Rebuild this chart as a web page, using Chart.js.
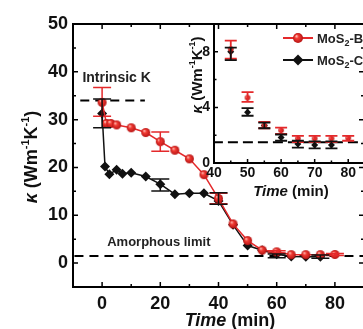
<!DOCTYPE html>
<html>
<head>
<meta charset="utf-8">
<script src="https://cdn.jsdelivr.net/npm/chart.js@4.4.1/dist/chart.umd.min.js"></script>
<style>
  html, body { margin: 0; padding: 0; background: #fff; overflow: hidden; }
  #wrap { position: relative; width: 363px; height: 329px; overflow: hidden; }
  #wrap canvas { position: absolute; left: 0; top: 0; }
</style>
</head>
<body>
<div id="wrap">
  <canvas id="mainChart" width="370" height="329"></canvas>
  <canvas id="insetChart" width="370" height="329"></canvas>
</div>
<script>
// MoS2-B (red spheres)
const timeB = [0, 1.5, 3, 5, 10, 15, 20, 25, 30, 35, 40, 45, 50, 55, 60, 65, 70, 75, 80];
const kappaB = [33.6, 29.2, 29.2, 28.9, 28.3, 27.3, 25.4, 23.6, 21.8, 18.5, 13.5, 8.2, 4.7, 2.7, 2.35, 1.76, 1.76, 1.76, 1.8];
// error bars shown in the main panel
const mainErrLowB = [30.7, null, null, null, null, null, 23.4, null, null, null, 12.4, null, null, null, 2.1, null, null, null, 1.6];
const mainErrHighB = [36.7, null, null, null, null, null, 27.4, null, null, null, 14.6, null, null, null, 2.6, null, null, null, 2.0];
// error bars shown in the inset
const insetErrLowB = [null, null, null, null, null, null, null, null, null, null, null, 7.5, 4.4, 2.5, 2.1, 1.5, 1.5, 1.5, 1.6];
const insetErrHighB = [null, null, null, null, null, null, null, null, null, null, null, 8.8, 5.1, 2.95, 2.55, 1.95, 1.95, 1.95, 1.95];

// MoS2-C (black diamonds)
const timeC = [0, 1, 2.5, 5, 7, 10, 15, 20, 25, 30, 35, 40, 45, 50, 55, 60, 65, 70, 75];
const kappaC = [31.3, 20.2, 18.6, 19.5, 18.7, 18.9, 18.1, 16.5, 14.4, 14.6, 14.6, 13.0, 8.0, 3.66, 2.7, 1.83, 1.36, 1.3, 1.3];
const mainErrLowC = [28.3, null, null, null, null, null, null, 15.1, null, null, null, 12.3, null, null, null, 1.1, null, null, 1.0];
const mainErrHighC = [34.3, null, null, null, null, null, null, 17.6, null, null, null, 14.7, null, null, null, 1.9, null, null, 1.7];
const insetErrLowC = [null, null, null, null, null, null, null, null, null, null, null, null, 7.4, 3.4, 2.5, 1.6, 1.1, 1.05, 1.05];
const insetErrHighC = [null, null, null, null, null, null, null, null, null, null, null, null, 8.3, 3.95, 2.9, 2.05, 1.6, 1.55, 1.55];

// reference lines
const intrinsicX = [-7.5, 14.7];
const intrinsicK = 34;
const amorphousX = [-9.5, 90];
const amorphousK = 1.5;

// tick labels
const mainXLabels = [0, 20, 40, 60, 80];
const mainYLabels = [0, 10, 20, 30, 40, 50];
const insetXLabels = [40, 50, 60, 70, 80];
const insetYLabels = [0, 4, 8];

const RED = "#e4292b";
const BLACK = "#111";
const FONT = "'Liberation Sans', Arial, sans-serif";
Chart.defaults.font.family = FONT;

function toPoints(xs, ys) {
  return xs.map((x, i) => ({ x, y: ys[i] }));
}

function sphere(r) {
  const c = document.createElement("canvas");
  const d = Math.ceil(r * 2) + 2;
  c.width = d;
  c.height = d;
  const g = c.getContext("2d");
  const m = d / 2;
  const grad = g.createRadialGradient(m - r * 0.35, m - r * 0.4, r * 0.05, m, m, r);
  grad.addColorStop(0, "#ffc4bc");
  grad.addColorStop(0.35, "#f23b33");
  grad.addColorStop(1, "#b71414");
  g.fillStyle = grad;
  g.beginPath();
  g.arc(m, m, r, 0, Math.PI * 2);
  g.fill();
  return c;
}

function drawRich(ctx, cx, cy, parts, angle) {
  ctx.save();
  ctx.translate(cx, cy);
  ctx.rotate(angle || 0);
  ctx.textAlign = "left";
  ctx.textBaseline = "alphabetic";
  ctx.fillStyle = BLACK;
  let total = 0;
  parts.forEach((p) => {
    ctx.font = p.font;
    p.w = ctx.measureText(p.text).width;
    total += p.w;
  });
  let x = -total / 2;
  parts.forEach((p) => {
    ctx.font = p.font;
    ctx.fillStyle = p.color || BLACK;
    ctx.fillText(p.text, x, p.dy || 0);
    x += p.w;
  });
  ctx.restore();
}

function kappaTitle(size) {
  const sup = Math.round(size * 0.62);
  return [
    { text: "\u03ba", font: `italic bold ${size}px ${FONT}` },
    { text: " (Wm", font: `bold ${size}px ${FONT}` },
    { text: "-1", font: `bold ${sup}px ${FONT}`, dy: -size * 0.45 },
    { text: "K", font: `bold ${size}px ${FONT}` },
    { text: "-1", font: `bold ${sup}px ${FONT}`, dy: -size * 0.45 },
    { text: ")", font: `bold ${size}px ${FONT}` },
  ];
}

function timeTitle(size) {
  return [
    { text: "Time", font: `italic bold ${size}px ${FONT}` },
    { text: " (min)", font: `bold ${size}px ${FONT}` },
  ];
}

// box with inward ticks
const frame = {
  id: "frame",
  afterDraw(chart, args, opts) {
    const { ctx, chartArea: a, scales } = chart;
    const x = scales.x;
    const y = scales.y;
    ctx.save();
    ctx.strokeStyle = "#000";
    ctx.lineWidth = opts.width;
    ctx.beginPath();
    if (opts.mirror) {
      ctx.rect(a.left, a.top, a.right - a.left, a.bottom - a.top);
    } else {
      ctx.moveTo(a.left, a.top);
      ctx.lineTo(a.left, a.bottom);
      ctx.lineTo(a.right + 5, a.bottom);
    }
    ctx.stroke();
    ctx.lineWidth = opts.tickWidth;
    ctx.beginPath();
    x.ticks.forEach((t) => {
      if (t.value <= x.min || t.value >= x.max) return;
      const p = x.getPixelForValue(t.value);
      const len = t.value % opts.xMajor === 0 ? opts.major : opts.minor;
      ctx.moveTo(p, a.bottom);
      ctx.lineTo(p, a.bottom - len);
      if (opts.mirror) {
        ctx.moveTo(p, a.top);
        ctx.lineTo(p, a.top + len);
      }
    });
    y.ticks.forEach((t) => {
      if (t.value <= y.min || t.value >= y.max) return;
      const p = y.getPixelForValue(t.value);
      const len = t.value % opts.yMajor === 0 ? opts.major : opts.minor;
      ctx.moveTo(a.left, p);
      ctx.lineTo(a.left + len, p);
      if (opts.mirror) {
        ctx.moveTo(a.right, p);
        ctx.lineTo(a.right - len, p);
      }
    });
    ctx.stroke();
    ctx.restore();
  },
};

const errorBars = {
  id: "errorBars",
  afterDatasetsDraw(chart, args, opts) {
    const { ctx, chartArea: a, scales } = chart;
    ctx.save();
    ctx.beginPath();
    ctx.rect(a.left, a.top - 20, a.right - a.left, a.bottom - a.top + 20);
    ctx.clip();
    chart.data.datasets.forEach((ds) => {
      if (!ds.errLow) return;
      ctx.strokeStyle = ds.borderColor;
      ctx.lineWidth = opts.width;
      ds.data.forEach((pt, i) => {
        const lo = ds.errLow[i];
        const hi = ds.errHigh[i];
        if (lo == null) return;
        const px = scales.x.getPixelForValue(pt.x);
        const pl = scales.y.getPixelForValue(lo);
        const ph = scales.y.getPixelForValue(hi);
        ctx.beginPath();
        ctx.moveTo(px, pl);
        ctx.lineTo(px, ph);
        ctx.moveTo(px - opts.cap, pl);
        ctx.lineTo(px + opts.cap, pl);
        ctx.moveTo(px - opts.cap, ph);
        ctx.lineTo(px + opts.cap, ph);
        ctx.stroke();
      });
    });
    ctx.restore();
  },
};

const mainText = {
  id: "mainText",
  afterDraw(chart) {
    const { ctx, scales } = chart;
    const x = scales.x;
    const y = scales.y;
    drawRich(ctx, 37, 157, kappaTitle(18), -Math.PI / 2);
    drawRich(ctx, 230, 326, timeTitle(18));
    drawRich(ctx, x.getPixelForValue(5), y.getPixelForValue(37.8),
      [{ text: "Intrinsic K", font: `bold 14px ${FONT}`, color: "#222" }]);
    drawRich(ctx, x.getPixelForValue(19.5), y.getPixelForValue(3.5),
      [{ text: "Amorphous limit", font: `bold 13px ${FONT}`, color: "#222" }]);
  },
};

const insetText = {
  id: "insetText",
  afterDraw(chart) {
    const { ctx } = chart;
    drawRich(ctx, 202, 75, kappaTitle(15), -Math.PI / 2);
    drawRich(ctx, 291, 196, timeTitle(15));
    // legend
    const rows = [
      { y: 38, color: RED, label: "B", red: true },
      { y: 60, color: BLACK, label: "C", red: false },
    ];
    rows.forEach((r) => {
      ctx.save();
      ctx.strokeStyle = r.color;
      ctx.lineWidth = 2;
      ctx.beginPath();
      ctx.moveTo(283, r.y);
      ctx.lineTo(313, r.y);
      ctx.stroke();
      if (r.red) {
        const img = sphere(5);
        ctx.drawImage(img, 298 - img.width / 2, r.y - img.height / 2);
      } else {
        ctx.fillStyle = BLACK;
        ctx.beginPath();
        ctx.moveTo(298, r.y - 5.5);
        ctx.lineTo(303.5, r.y);
        ctx.lineTo(298, r.y + 5.5);
        ctx.lineTo(292.5, r.y);
        ctx.closePath();
        ctx.fill();
      }
      ctx.restore();
      ctx.save();
      ctx.textAlign = "left";
      ctx.textBaseline = "alphabetic";
      ctx.fillStyle = "#222";
      let tx = 317;
      ctx.font = `bold 13px ${FONT}`;
      ctx.fillText("MoS", tx, r.y + 5);
      tx += ctx.measureText("MoS").width;
      ctx.font = `bold 9px ${FONT}`;
      ctx.fillText("2", tx, r.y + 8);
      tx += ctx.measureText("2").width;
      ctx.font = `bold 13px ${FONT}`;
      ctx.fillText("-" + r.label, tx, r.y + 5);
      ctx.restore();
    });
  },
};

const mainChart = new Chart(document.getElementById("mainChart"), {
  type: "line",
  data: {
    datasets: [
      {
        data: toPoints(timeB, kappaB),
        borderColor: RED,
        borderWidth: 1.5,
        pointStyle: sphere(4.5),
        pointRadius: 4.5,
        errLow: mainErrLowB,
        errHigh: mainErrHighB,
      },
      {
        data: toPoints(timeC, kappaC),
        borderColor: BLACK,
        backgroundColor: BLACK,
        borderWidth: 1.5,
        pointStyle: "rectRot",
        pointRadius: 5,
        pointBorderWidth: 0,
        errLow: mainErrLowC,
        errHigh: mainErrHighC,
      },
      {
        data: intrinsicX.map((x) => ({ x, y: intrinsicK })),
        borderColor: "#000",
        borderWidth: 2,
        borderDash: [9, 6],
        pointRadius: 0,
      },
      {
        data: amorphousX.map((x) => ({ x, y: amorphousK })),
        borderColor: "#000",
        borderWidth: 2,
        borderDash: [9, 6],
        pointRadius: 0,
      },
    ],
  },
  options: {
    responsive: false,
    animation: false,
    events: [],
    layout: { padding: { top: 24, right: 4, left: 0, bottom: 0 } },
    plugins: {
      legend: { display: false },
      tooltip: { enabled: false },
      frame: { width: 2, tickWidth: 1.5, major: 5, minor: 3, xMajor: 20, yMajor: 10, mirror: true },
      errorBars: { width: 1.5, cap: 9 },
    },
    scales: {
      x: {
        type: "linear",
        min: -10,
        max: 90,
        grid: { display: false, drawTicks: false },
        border: { display: false },
        afterFit: (s) => { s.height = 42; },
        ticks: {
          stepSize: 10,
          autoSkip: false,
          maxRotation: 0,
          padding: 6,
          color: BLACK,
          font: { size: 18, weight: "bold" },
          callback: (v) => (mainXLabels.includes(v) ? v : ""),
        },
      },
      y: {
        type: "linear",
        min: -5,
        max: 50,
        grid: { display: false, drawTicks: false },
        border: { display: false },
        afterFit: (s) => { s.width = 73; },
        ticks: {
          stepSize: 5,
          autoSkip: false,
          padding: 5,
          color: BLACK,
          font: { size: 18, weight: "bold" },
          callback: (v) => (mainYLabels.includes(v) ? v : ""),
        },
      },
    },
  },
  plugins: [frame, errorBars, mainText],
});

const insetChart = new Chart(document.getElementById("insetChart"), {
  type: "line",
  data: {
    datasets: [
      {
        data: toPoints(timeB, kappaB),
        borderColor: RED,
        showLine: false,
        pointStyle: sphere(2.8),
        pointRadius: 3,
        errLow: insetErrLowB,
        errHigh: insetErrHighB,
      },
      {
        data: toPoints(timeC, kappaC),
        borderColor: BLACK,
        backgroundColor: BLACK,
        showLine: false,
        pointStyle: "rectRot",
        pointRadius: 3.5,
        pointBorderWidth: 0,
        errLow: insetErrLowC,
        errHigh: insetErrHighC,
      },
      {
        data: amorphousX.map((x) => ({ x, y: amorphousK })),
        borderColor: "#000",
        borderWidth: 2,
        borderDash: [10, 5],
        pointRadius: 0,
      },
    ],
  },
  options: {
    responsive: false,
    animation: false,
    events: [],
    layout: { padding: { top: 24, right: 4, left: 184, bottom: 136 } },
    plugins: {
      legend: { display: false },
      tooltip: { enabled: false },
      frame: { width: 2, tickWidth: 1.5, major: 4, minor: 2.5, xMajor: 10, yMajor: 4, mirror: false },
      errorBars: { width: 1.8, cap: 6 },
    },
    scales: {
      x: {
        type: "linear",
        min: 40,
        max: 85,
        grid: { display: false, drawTicks: false },
        border: { display: false },
        afterFit: (s) => { s.height = 30; },
        ticks: {
          stepSize: 5,
          autoSkip: false,
          maxRotation: 0,
          padding: 2,
          color: BLACK,
          font: { size: 14, weight: "bold" },
          callback: (v) => (insetXLabels.includes(v) ? v : ""),
        },
      },
      y: {
        type: "linear",
        min: 0,
        max: 10,
        grid: { display: false, drawTicks: false },
        border: { display: false },
        afterFit: (s) => { s.width = 30; },
        ticks: {
          stepSize: 2,
          autoSkip: false,
          padding: 4,
          color: BLACK,
          font: { size: 14, weight: "bold" },
          callback: (v) => (insetYLabels.includes(v) ? v : ""),
        },
      },
    },
  },
  plugins: [frame, errorBars, insetText],
});
</script>
</body>
</html>
